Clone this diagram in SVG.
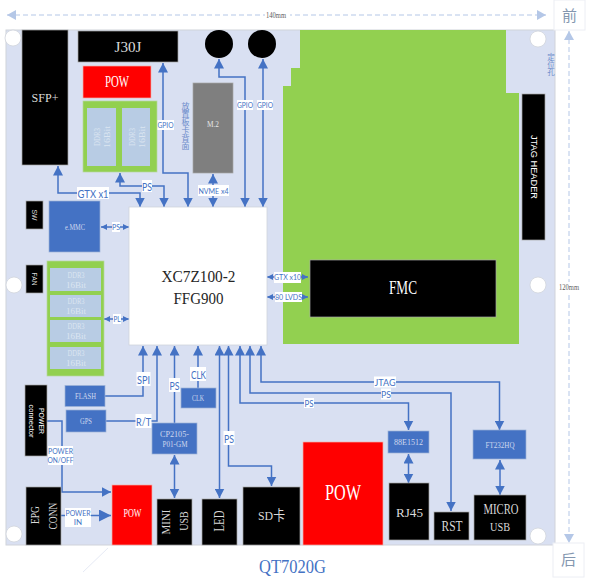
<svg xmlns="http://www.w3.org/2000/svg" width="597" height="579" viewBox="0 0 597 579">
<style>
text{font-family:"Liberation Serif",serif;text-anchor:middle;dominant-baseline:central}
.k{fill:#000;stroke:#a6a6a6;stroke-width:.7}
.kt{fill:#d9d9d9}
.b{fill:#4472c4;stroke:#9db2d8;stroke-width:.7}
.bt{fill:#cfd8ee}
.r{fill:#f00;stroke:#f4b0a8;stroke-width:.7}
.g{fill:#92d050;stroke:#b7d8a0;stroke-width:.7}
.i{fill:#b8cce4}
.it{fill:#dbe5f1}
.w{fill:#fff;stroke:#d0d4dc;stroke-width:.8}
.c{fill:none;stroke:#4472c4;stroke-width:1.5}
.t{fill:#fff}
text.lb{font-family:Lato,"Liberation Sans",sans-serif;fill:#4472c4}
text.ss{font-family:"Liberation Sans",sans-serif}
text.cjk{font-family:"Noto Sans CJK SC",sans-serif;fill:#8497b0}
text.v{font-family:"Noto Sans CJK SC",sans-serif;fill:#6d8ccb;writing-mode:vertical-rl;text-orientation:upright}
.d{fill:none;stroke:#b4c7e7;stroke-width:1;stroke-dasharray:5 3}
.bg{fill:#fff}
</style>
<defs>
<marker id="a" markerUnits="userSpaceOnUse" markerWidth="11" markerHeight="10" refX="9.500" refY="5" orient="auto-start-reverse"><path d="M0 0L9.500 5L0 10Z" fill="#4472c4"/></marker>
<marker id="s" markerUnits="userSpaceOnUse" markerWidth="7" markerHeight="7" refX="6" refY="3" orient="auto-start-reverse"><path d="M0 0L6 3L0 6Z" fill="#4472c4"/></marker>
<marker id="l" markerUnits="userSpaceOnUse" markerWidth="13" markerHeight="13" refX="12" refY="6" orient="auto"><path d="M0 0L12 6L0 12Z" fill="#4472c4"/></marker>
<marker id="d" markerUnits="userSpaceOnUse" markerWidth="11" markerHeight="10" refX="9" refY="5" orient="auto-start-reverse"><path d="M0 0L9 5L0 10Z" fill="#b4c7e7"/></marker>
</defs>
<rect id="board" x="6" y="30" width="549" height="515" fill="#d9e0f2" stroke="#d0d3da" stroke-width="1"/>
<path id="scratch" d="M108 548L83 572" fill="none" stroke="#e6eaf5" stroke-width="1"/>
<g id="fmc-card"><path d="M283 344V86H291V68H300V30H506V93H519V344Z" fill="#92d050"/></g>
<g id="holes"><circle class="w" cx="13" cy="38" r="8"/><circle class="w" cx="538" cy="39" r="8"/><circle class="w" cx="14" cy="285" r="8"/><circle class="w" cx="538" cy="285" r="8"/><circle class="w" cx="14" cy="534" r="8"/><circle class="w" cx="538" cy="536" r="8"/></g>
<g id="dimensions">
<path class="d" marker-start="url(#d)" marker-end="url(#d)" d="M7 15H546"/>
<path class="d" marker-start="url(#d)" marker-end="url(#d)" d="M569 31V543"/>
<rect class="bg" x="265" y="10" width="25" height="10"/><text x="276" y="15.500" font-size="8" fill="#595959" textLength="20" lengthAdjust="spacingAndGlyphs">140mm</text>
<rect class="bg" x="558" y="282" width="22" height="10"/><text x="569" y="287" font-size="8" fill="#595959" textLength="20" lengthAdjust="spacingAndGlyphs">120mm</text>
<rect x="554" y="0" width="31" height="30" fill="#fff" stroke="#eceef4"/><text class="cjk" x="569.500" y="14" font-size="15">前</text>
<rect x="553" y="543" width="31" height="34" fill="#fff" stroke="#eceef4"/><text class="cjk" x="568.500" y="558" font-size="15">后</text>
</g>
<g id="connectors">
<path class="c" marker-start="url(#a)" marker-end="url(#a)" d="M58 166V193H140V207"/>
<path class="c" marker-start="url(#a)" marker-end="url(#a)" d="M120 173V186H164V207"/>
<path class="c" marker-start="url(#a)" marker-end="url(#a)" d="M163 63V173H188V207"/>
<path class="c" marker-start="url(#a)" marker-end="url(#a)" d="M213 174V207"/>
<path class="c" marker-start="url(#a)" marker-end="url(#a)" d="M219 59V77H245V207"/>
<path class="c" marker-start="url(#a)" marker-end="url(#a)" d="M263 59V207"/>
<path class="c" marker-start="url(#s)" marker-end="url(#s)" d="M101 227H129"/>
<path class="c" marker-start="url(#s)" marker-end="url(#s)" d="M104 319H129"/>
<path class="c" marker-start="url(#s)" marker-end="url(#s)" d="M267 277H308"/>
<path class="c" marker-start="url(#s)" marker-end="url(#s)" d="M267 297H308"/>
<path class="c" marker-start="url(#a)" d="M143 346V396H105"/>
<path class="c" marker-start="url(#a)" d="M157 346V421H106"/>
<path class="c" marker-start="url(#a)" d="M174.500 346V423"/>
<path class="c" marker-start="url(#a)" d="M198 346V388"/>
<path class="c" marker-start="url(#a)" marker-end="url(#a)" d="M219.500 346V498"/>
<path class="c" marker-start="url(#a)" marker-end="url(#a)" d="M228.500 346V466H271.500V486"/>
<path class="c" marker-start="url(#a)" marker-end="url(#a)" d="M240 346V403H408.500V430"/>
<path class="c" marker-start="url(#a)" marker-end="url(#a)" d="M250 346V393H451V511"/>
<path class="c" marker-start="url(#a)" marker-end="url(#a)" d="M261 346V382H499.500V430"/>
<path class="c" marker-start="url(#a)" marker-end="url(#a)" d="M174.500 455V498"/>
<path class="c" marker-start="url(#a)" marker-end="url(#a)" d="M408.500 454V483"/>
<path class="c" marker-start="url(#a)" marker-end="url(#a)" d="M500 460V495"/>
<path class="c" marker-end="url(#a)" d="M47 421H62V492H111"/>
<path class="c" stroke-width="2.500" marker-end="url(#l)" d="M61 515.500H111"/>
</g>
<g id="labels">
<rect class="bg" x="77" y="187" width="32" height="12"/><text class="lb" x="93" y="193" font-size="11" textLength="31" lengthAdjust="spacingAndGlyphs">GTX x1</text>
<rect class="bg" x="142" y="180" width="10" height="12"/><text class="lb" x="147" y="186" font-size="11" textLength="10" lengthAdjust="spacingAndGlyphs">PS</text>
<rect class="bg" x="157" y="120" width="17" height="10"/><text class="lb" x="165.500" y="125" font-size="8" textLength="16" lengthAdjust="spacingAndGlyphs">GPIO</text>
<rect class="bg" x="237" y="100" width="16" height="10"/><text class="lb" x="245" y="105" font-size="8" textLength="16" lengthAdjust="spacingAndGlyphs">GPIO</text>
<rect class="bg" x="257" y="100" width="16" height="10"/><text class="lb" x="265" y="105" font-size="8" textLength="16" lengthAdjust="spacingAndGlyphs">GPIO</text>
<rect class="bg" x="198" y="185" width="31" height="11"/><text class="lb" x="213.500" y="190.500" font-size="8" textLength="30" lengthAdjust="spacingAndGlyphs">NVME x4</text>
<rect class="bg" x="112" y="222" width="8" height="10"/><text class="lb" x="116" y="227" font-size="7.500" textLength="8" lengthAdjust="spacingAndGlyphs">PS</text>
<rect class="bg" x="113" y="314" width="8" height="10"/><text class="lb" x="117" y="319" font-size="8" textLength="7" lengthAdjust="spacingAndGlyphs">PL</text>
<rect class="bg" x="274" y="272" width="27" height="11"/><text class="lb" x="287.500" y="277.500" font-size="7.500" textLength="27" lengthAdjust="spacingAndGlyphs">GTX x10</text>
<rect class="bg" x="275" y="292" width="27" height="10"/><text class="lb" x="288.500" y="297" font-size="7.500" textLength="27" lengthAdjust="spacingAndGlyphs">80 LVDS</text>
<rect class="bg" x="136.500" y="372" width="14" height="14"/><text class="lb" x="143.500" y="379" font-size="11" textLength="13" lengthAdjust="spacingAndGlyphs">SPI</text>
<rect class="bg" x="169" y="378" width="11" height="14"/><text class="lb" x="174.500" y="385" font-size="11" textLength="10" lengthAdjust="spacingAndGlyphs">PS</text>
<rect class="bg" x="190" y="367" width="16" height="14"/><text class="lb" x="198.500" y="374" font-size="11" textLength="15" lengthAdjust="spacingAndGlyphs">CLK</text>
<rect class="bg" x="135.500" y="414" width="16" height="14"/><text class="lb" x="143.500" y="421" font-size="11" textLength="15" lengthAdjust="spacingAndGlyphs">R/T</text>
<rect class="bg" x="223.500" y="431" width="11" height="14"/><text class="lb" x="229" y="438" font-size="11" textLength="10" lengthAdjust="spacingAndGlyphs">PS</text>
<rect class="bg" x="304" y="398" width="10" height="10"/><text class="lb" x="309" y="403" font-size="9" textLength="9" lengthAdjust="spacingAndGlyphs">PS</text>
<rect class="bg" x="381" y="388.500" width="10" height="11"/><text class="lb" x="386" y="394" font-size="9.500" textLength="10" lengthAdjust="spacingAndGlyphs">PS</text>
<rect class="bg" x="374" y="376.500" width="22" height="11"/><text class="lb" x="385" y="382" font-size="9.500" textLength="21" lengthAdjust="spacingAndGlyphs">JTAG</text>
<rect class="bg" x="48" y="446" width="25" height="19"/><text class="lb" x="60.500" y="451" font-size="8" textLength="25" lengthAdjust="spacingAndGlyphs">POWER</text><text class="lb" x="60.500" y="460" font-size="8" textLength="26" lengthAdjust="spacingAndGlyphs">ON/OFF</text>
<rect class="bg" x="65" y="508" width="26" height="19"/><text class="lb" x="78" y="512.500" font-size="8" textLength="25" lengthAdjust="spacingAndGlyphs">POWER</text><text class="lb" x="78" y="522" font-size="8">IN</text>
</g>
<g id="sfp"><rect class="k" x="22" y="30" width="46" height="135"/><text class="kt" x="45" y="97" font-size="13.500" textLength="27" lengthAdjust="spacingAndGlyphs">SFP+</text></g>
<g id="j30j"><rect class="k" x="78" y="31" width="100" height="31"/><text class="kt" x="128" y="47" font-size="14" textLength="27" lengthAdjust="spacingAndGlyphs">J30J</text></g>
<g id="pow-top"><rect class="r" x="83" y="66" width="68" height="32"/><text class="t" x="117" y="81.500" font-size="16" textLength="24" lengthAdjust="spacingAndGlyphs">POW</text></g>
<g id="ddr-top"><rect class="g" x="83" y="101" width="74" height="71"/>
<rect class="i" x="87" y="108" width="29" height="58"/><rect class="i" x="122" y="108" width="28" height="58"/>
<g transform="translate(102 137) rotate(-90)"><text class="it" y="-5" font-size="9" textLength="18" lengthAdjust="spacingAndGlyphs">DDR3</text><text class="it" y="5" font-size="9" textLength="22" lengthAdjust="spacingAndGlyphs">16Bit</text></g>
<g transform="translate(137 137) rotate(-90)"><text class="it" y="-5" font-size="9" textLength="18" lengthAdjust="spacingAndGlyphs">DDR3</text><text class="it" y="5" font-size="9" textLength="22" lengthAdjust="spacingAndGlyphs">16Bit</text></g></g>
<g id="circle-a"><circle cx="219" cy="44" r="14" fill="#000"/></g>
<g id="circle-b"><circle cx="262" cy="44" r="14" fill="#000"/></g>
<g id="m2"><rect x="193" y="83" width="40" height="90" fill="#7f7f7f" stroke="#a6a6a6" stroke-width=".7"/><text x="213" y="124" font-size="8" fill="#e6e6e6" textLength="12" lengthAdjust="spacingAndGlyphs">M.2</text></g>
<g id="note-back"><text class="v" x="185.500" y="125.500" font-size="8">放置板卡背面</text></g>
<g id="note-hole"><text class="v" x="551" y="65" font-size="7.500">定位孔</text></g>
<g id="jtag-header"><rect class="k" x="522" y="94" width="23" height="146"/><text class="t ss" transform="translate(534 167) rotate(90)" font-size="9.500" textLength="64" lengthAdjust="spacingAndGlyphs">JTAG HEADER</text></g>
<g id="sw"><rect class="k" x="26" y="201" width="17" height="28"/><text class="kt ss" transform="translate(34.500 215) rotate(90)" font-size="8" textLength="11" lengthAdjust="spacingAndGlyphs">SW</text></g>
<g id="emmc"><rect class="b" x="49" y="201" width="51" height="51"/><text class="bt" x="75" y="227" font-size="8" textLength="20" lengthAdjust="spacingAndGlyphs">e.MMC</text></g>
<g id="fan"><rect class="k" x="26" y="265" width="17" height="28"/><text class="kt ss" transform="translate(34.500 279) rotate(90)" font-size="8" textLength="13" lengthAdjust="spacingAndGlyphs">FAN</text></g>
<g id="ddr-left"><rect class="g" x="47" y="261" width="57" height="115"/>
<rect class="i" x="50" y="268" width="51" height="23"/><rect class="i" x="50" y="295" width="51" height="22"/><rect class="i" x="50" y="320" width="51" height="22"/><rect class="i" x="50" y="347" width="51" height="22"/>
<text class="it" x="76" y="274.500" font-size="8.500" textLength="17" lengthAdjust="spacingAndGlyphs">DDR3</text><text class="it" x="76" y="285" font-size="8.500" textLength="20" lengthAdjust="spacingAndGlyphs">16Bit</text>
<text class="it" x="76" y="301" font-size="8.500" textLength="17" lengthAdjust="spacingAndGlyphs">DDR3</text><text class="it" x="76" y="311" font-size="8.500" textLength="20" lengthAdjust="spacingAndGlyphs">16Bit</text>
<text class="it" x="76" y="326" font-size="8.500" textLength="17" lengthAdjust="spacingAndGlyphs">DDR3</text><text class="it" x="76" y="336" font-size="8.500" textLength="20" lengthAdjust="spacingAndGlyphs">16Bit</text>
<text class="it" x="76" y="353" font-size="8.500" textLength="17" lengthAdjust="spacingAndGlyphs">DDR3</text><text class="it" x="76" y="363" font-size="8.500" textLength="20" lengthAdjust="spacingAndGlyphs">16Bit</text></g>
<g id="fpga"><rect class="w" x="129" y="207" width="138" height="138"/><text x="198.500" y="276" font-size="16.500" fill="#262626" textLength="74" lengthAdjust="spacingAndGlyphs">XC7Z100-2</text><text x="198.500" y="298" font-size="16.500" fill="#262626" textLength="50" lengthAdjust="spacingAndGlyphs">FFG900</text></g>
<g id="fmc"><rect class="k" x="310" y="260" width="186" height="57"/><text class="t" x="403" y="288" font-size="18" textLength="28" lengthAdjust="spacingAndGlyphs">FMC</text></g>
<g id="power-conn"><rect class="k" x="25" y="385" width="22" height="71"/><g transform="translate(36 421) rotate(90)"><text class="t ss" y="-5" font-size="7.500" textLength="26" lengthAdjust="spacingAndGlyphs">POWER</text><text class="t ss" y="5" font-size="7.500" textLength="33" lengthAdjust="spacingAndGlyphs">connector</text></g></g>
<g id="flash"><rect class="b" x="65" y="385.500" width="40" height="21"/><text class="bt" x="85.500" y="396" font-size="8.500" textLength="21" lengthAdjust="spacingAndGlyphs">FLASH</text></g>
<g id="gps"><rect class="b" x="66" y="410" width="40" height="22"/><text class="bt" x="86" y="421" font-size="8" textLength="12" lengthAdjust="spacingAndGlyphs">GPS</text></g>
<g id="clk"><rect class="b" x="181" y="388" width="35" height="20"/><text class="bt" x="198" y="398" font-size="8" textLength="12" lengthAdjust="spacingAndGlyphs">CLK</text></g>
<g id="cp2105"><rect class="b" x="152" y="423" width="45" height="31"/><text class="bt" x="174.500" y="434" font-size="8.300" textLength="29" lengthAdjust="spacingAndGlyphs">CP2105-</text><text class="bt" x="175" y="444" font-size="8.300" textLength="25" lengthAdjust="spacingAndGlyphs">P01-GM</text></g>
<g id="epg"><rect class="k" x="26" y="487" width="35" height="58"/><text class="kt" transform="translate(35 515) rotate(-90)" font-size="12.500" textLength="18" lengthAdjust="spacingAndGlyphs">EPG</text><text class="kt" transform="translate(52 516) rotate(-90)" font-size="13.500" textLength="27" lengthAdjust="spacingAndGlyphs">CONN</text></g>
<g id="pow-small"><rect class="r" x="112" y="485" width="40" height="60"/><text class="t" x="132.500" y="513" font-size="12" textLength="18" lengthAdjust="spacingAndGlyphs">POW</text></g>
<g id="mini-usb"><rect class="k" x="157" y="499" width="35" height="46"/><text class="kt" transform="translate(166 522) rotate(-90)" font-size="12.500" textLength="25" lengthAdjust="spacingAndGlyphs">MINI</text><text class="kt" transform="translate(183 521) rotate(-90)" font-size="13" textLength="19.500" lengthAdjust="spacingAndGlyphs">USB</text></g>
<g id="led"><rect class="k" x="202" y="499" width="35" height="46"/><text class="kt" transform="translate(219.500 521) rotate(-90)" font-size="14" textLength="21" lengthAdjust="spacingAndGlyphs">LED</text></g>
<g id="sd"><rect class="k" x="243" y="487" width="57" height="58"/><text class="kt" x="271.500" y="515" font-size="13.500" style="font-family:'Liberation Serif','Noto Sans CJK SC',serif" textLength="27" lengthAdjust="spacingAndGlyphs">SD卡</text></g>
<g id="pow-big"><rect class="r" x="303" y="442" width="80" height="103"/><text class="t" x="343" y="492" font-size="24" textLength="36" lengthAdjust="spacingAndGlyphs">POW</text></g>
<g id="phy"><rect class="b" x="388" y="431" width="41" height="22"/><text class="bt" x="408.500" y="442" font-size="8.300" textLength="29" lengthAdjust="spacingAndGlyphs">88E1512</text></g>
<g id="rj45"><rect class="k" x="389" y="483" width="40" height="57"/><text class="kt" x="409.500" y="512" font-size="13.500" textLength="27" lengthAdjust="spacingAndGlyphs">RJ45</text></g>
<g id="rst"><rect class="k" x="434" y="512" width="35" height="28"/><text class="kt" x="452" y="526" font-size="14" textLength="21" lengthAdjust="spacingAndGlyphs">RST</text></g>
<g id="ft232"><rect class="b" x="473" y="430" width="53" height="29"/><text class="bt" x="500" y="445" font-size="8.300" textLength="29" lengthAdjust="spacingAndGlyphs">FT232HQ</text></g>
<g id="micro-usb"><rect class="k" x="474" y="495" width="52" height="45"/><text class="kt" x="501" y="509" font-size="14" textLength="35" lengthAdjust="spacingAndGlyphs">MICRO</text><text class="kt" x="500" y="526" font-size="13.500" textLength="20" lengthAdjust="spacingAndGlyphs">USB</text></g>
<g id="title"><text x="292.500" y="566" font-size="19" fill="#4472c4" textLength="67" lengthAdjust="spacingAndGlyphs">QT7020G</text></g>
</svg>
